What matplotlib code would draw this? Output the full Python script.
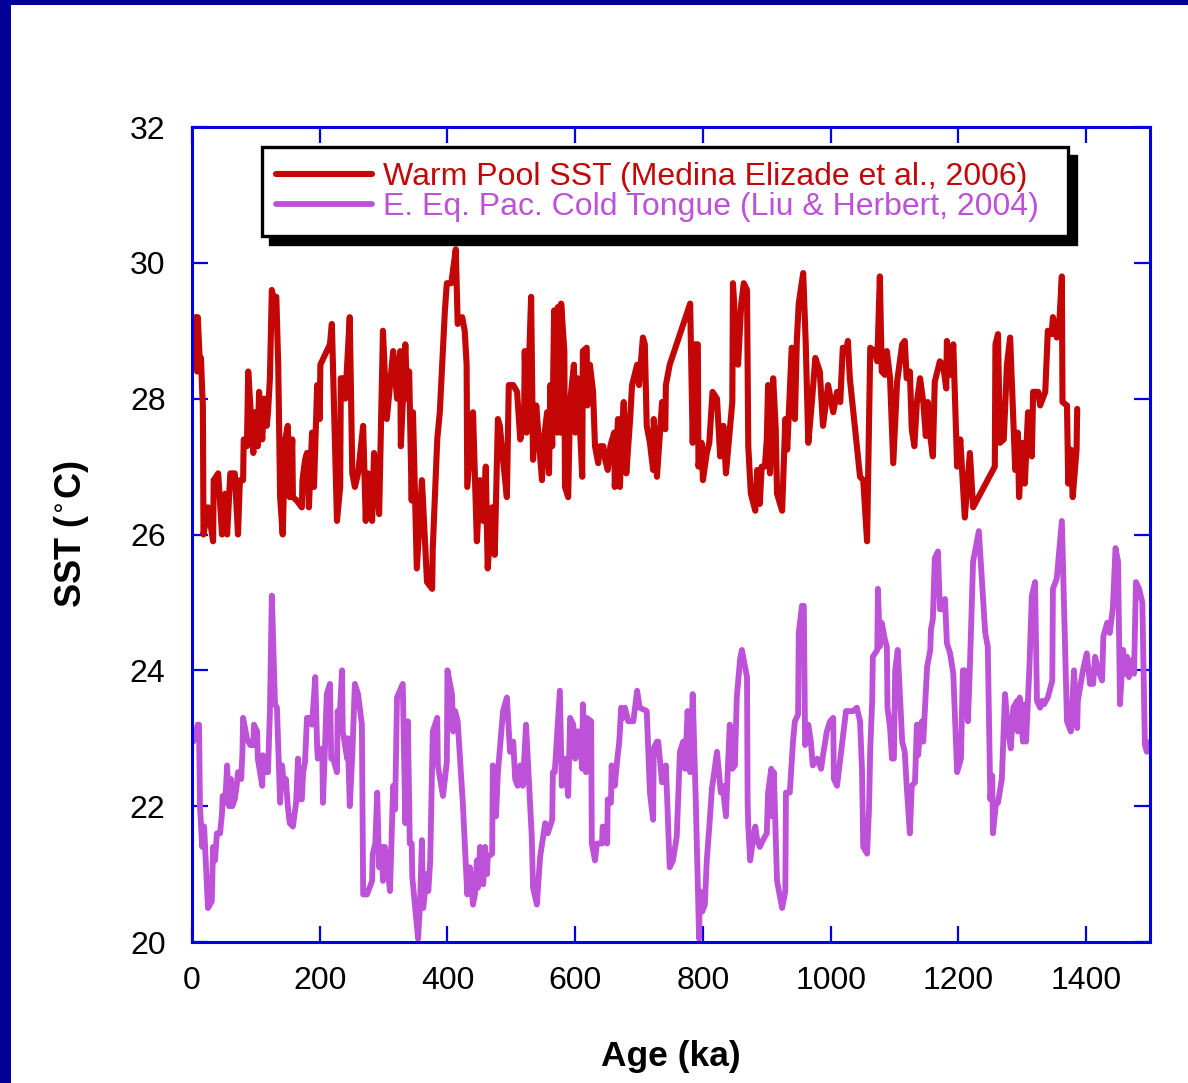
import matplotlib
matplotlib.use("Agg")
import matplotlib.pyplot as plt
from matplotlib.patches import Rectangle

plt.rcParams["font.family"] = ["Liberation Sans", "DejaVu Sans"]

# Warm Pool SST (Medina Elizade et al., 2006)
warm_age = [0, 5, 8, 9, 12, 14, 16, 17, 18, 25, 33, 34, 41, 47, 52, 55, 60, 67, 72, 75,
            80, 81, 86, 88, 96, 99, 103, 105, 110, 113, 117, 119, 122, 125, 127, 132, 135, 138, 142, 146,
            150, 153, 157, 158, 164, 172, 173, 177, 180, 183, 188, 191, 196, 200, 201, 216, 219, 227, 232, 233,
            236, 240, 247, 251, 255, 260, 268, 272, 276, 282, 285, 293, 299, 305, 315, 321, 326, 327, 334, 337,
            340, 344, 346, 352, 360, 368, 376, 377, 384, 388, 396, 399, 406, 413, 416, 423, 427, 430, 431, 440,
            446, 451, 456, 460, 463, 470, 474, 479, 482, 487, 493, 496, 503, 509, 514, 520, 521, 524, 531, 534,
            539, 543, 548, 551, 556, 559, 561, 564, 567, 572, 573, 577, 578, 583, 584, 589, 592, 598, 600, 604,
            611, 612, 618, 619, 623, 628, 631, 636, 639, 644, 647, 651, 655, 661, 662, 667, 670, 673, 676, 680,
            686, 689, 697, 700, 706, 709, 712, 717, 722, 723, 728, 736, 741, 742, 748, 780, 784, 787, 792, 793,
            798, 800, 806, 810, 815, 822, 827, 832, 836, 846, 847, 852, 855, 860, 864, 869, 871, 875, 882, 885,
            889, 892, 897, 900, 902, 905, 910, 914, 916, 924, 929, 932, 939, 944, 947, 950, 957, 961, 965, 971,
            976, 983, 988, 996, 1004, 1010, 1015, 1019, 1024, 1027, 1030, 1046, 1051, 1057, 1060, 1062, 1069, 1073, 1077, 1080,
            1085, 1088, 1093, 1098, 1104, 1112, 1116, 1119, 1124, 1127, 1131, 1135, 1140, 1145, 1149, 1152, 1156, 1160, 1163, 1171,
            1176, 1181, 1182, 1187, 1192, 1198, 1203, 1210, 1218, 1223, 1257, 1258, 1262, 1265, 1271, 1276, 1281, 1289, 1293, 1295,
            1300, 1304, 1309, 1315, 1317, 1325, 1328, 1336, 1340, 1346, 1348, 1354, 1357, 1362, 1363, 1370, 1372, 1376, 1379, 1385,
            1386]
warm_sst = [28.6, 29.2, 28.4, 29.2, 28.6, 28.6, 28.1, 27.9, 26.0, 26.4, 25.9, 26.8, 26.9, 26.0, 26.6, 26.0, 26.9, 26.9, 26.0, 26.8,
            26.8, 27.4, 27.3, 28.4, 27.2, 27.8, 27.3, 28.1, 27.4, 28.0, 27.6, 27.8, 28.3, 29.6, 29.5, 29.5, 28.5, 26.55, 26.0, 27.4,
            27.6, 26.55, 27.4, 26.55, 26.5, 26.4, 26.8, 27.1, 27.2, 26.4, 27.5, 26.7, 28.2, 27.7, 28.5, 28.8, 29.1, 26.2, 26.7, 28.3,
            28.3, 28.0, 29.2, 26.9, 26.7, 26.9, 27.6, 26.2, 26.9, 26.2, 27.2, 26.3, 29.0, 27.7, 28.7, 28.0, 28.7, 27.3, 28.8, 28.0,
            28.4, 26.5, 27.8, 25.5, 26.8, 25.3, 25.2, 25.8, 27.4, 27.8, 29.3, 29.7, 29.7, 30.2, 29.1, 29.2, 29.0, 28.5, 26.7, 27.8,
            25.9, 26.8, 26.2, 27.0, 25.5, 26.4, 25.7, 27.7, 27.6, 27.1, 26.55, 28.2, 28.2, 28.1, 27.4, 27.7, 28.7, 27.5, 29.5, 27.1,
            27.9, 27.4, 26.8, 27.4, 27.8, 26.9, 28.2, 27.3, 29.3, 27.5, 29.35, 27.5, 29.4, 28.7, 26.7, 26.55, 27.95, 28.5, 27.5, 28.3,
            26.85, 28.7, 28.75, 27.9, 28.5, 28.1, 27.3, 27.05, 27.3, 27.3, 27.1, 26.95, 27.3, 27.5, 26.7, 27.7, 26.7, 27.5, 27.95, 26.9,
            27.7, 28.2, 28.5, 28.2, 28.9, 28.8, 27.6, 27.35, 26.95, 27.7, 26.85, 27.95, 27.55, 28.2, 28.5, 29.4, 27.35, 28.8, 28.8, 27.0,
            27.35, 26.8, 27.2, 27.35, 28.1, 28.0, 27.15, 27.6, 26.9, 27.95, 29.7, 28.9, 28.5, 29.4, 29.7, 29.6, 27.3, 26.6, 26.35, 26.95,
            26.45, 27.0, 27.0, 27.4, 28.2, 26.9, 28.3, 27.55, 26.6, 26.35, 27.7, 27.25, 28.75, 27.7, 28.85, 29.4, 29.85, 28.8, 27.35, 28.0,
            28.6, 28.4, 27.6, 28.2, 27.8, 28.1, 27.95, 28.75, 28.7, 28.85, 28.3, 26.85, 26.8, 25.9, 27.6, 28.75, 28.7, 28.55, 29.8, 28.4,
            28.35, 28.7, 28.3, 27.05, 28.25, 28.8, 28.85, 28.3, 28.4, 27.55, 27.3, 27.95, 28.3, 27.95, 27.45, 27.95, 27.45, 27.15, 28.25, 28.55,
            28.5, 28.15, 28.85, 28.35, 28.8, 27.0, 27.4, 26.25, 27.2, 26.4, 27.0, 28.8, 28.95, 27.35, 27.4, 28.5, 28.9, 26.95, 27.5, 26.55,
            27.35, 26.75, 27.8, 27.15, 28.1, 28.1, 27.9, 28.1, 29.0, 28.95, 29.2, 28.9, 28.95, 29.8, 27.95, 27.9, 26.75, 27.25, 26.55, 27.25,
            27.85]

# E. Eq. Pac. Cold Tongue (Liu & Herbert, 2004)
cold_age = [2, 9, 11, 12.5, 16, 17, 19, 25, 31, 33, 36, 39, 44, 47, 48, 52, 55, 58, 61, 63,
            67, 70, 72, 77, 79, 80, 86, 91, 96, 97, 102, 103, 110, 111, 116, 119, 122, 125, 130, 133,
            138, 141, 144, 147, 150, 153, 158, 163, 166, 169, 172, 174, 177, 180, 185, 188, 193, 196, 197, 204,
            205, 208, 211, 216, 218, 221, 227, 228, 230, 235, 236, 243, 244, 247, 251, 255, 260, 266, 268, 274,
            282, 283, 287, 290, 293, 297, 299, 302, 305, 310, 315, 318, 321, 330, 334, 338, 341, 344, 345, 354,
            357, 360, 362, 368, 370, 373, 377, 384, 385, 393, 399, 400, 407, 409, 412, 416, 424, 431, 435, 440,
            443, 446, 448, 451, 456, 459, 462, 463, 470, 471, 476, 479, 487, 493, 498, 503, 506, 510, 514, 518,
            523, 532, 534, 540, 545, 553, 557, 564, 565, 568, 576, 579, 584, 589, 592, 597, 600, 603, 606, 611,
            612, 617, 618, 625, 626, 631, 634, 642, 643, 650, 651, 656, 657, 662, 666, 669, 672, 675, 678, 683,
            691, 697, 701, 712, 717, 722, 723, 728, 730, 736, 742, 748, 753, 759, 764, 769, 772, 776, 780, 784,
            789, 791, 794, 795, 799, 803, 806, 810, 814, 822, 828, 831, 836, 839, 842, 846, 850, 853, 858, 861,
            869, 870, 871, 874, 879, 882, 885, 889, 894, 900, 902, 907, 908, 911, 916, 924, 929, 930, 936, 941,
            944, 949, 950, 955, 958, 960, 965, 969, 972, 979, 985, 988, 994, 999, 1004, 1005, 1010, 1024, 1035, 1041,
            1046, 1049, 1051, 1057, 1060, 1062, 1065, 1066, 1073, 1074, 1077, 1080, 1085, 1088, 1089, 1093, 1096, 1099, 1101, 1105,
            1112, 1116, 1119, 1124, 1127, 1132, 1135, 1137, 1140, 1143, 1145, 1151, 1156, 1157, 1160, 1163, 1168, 1171, 1176, 1179,
            1182, 1187, 1192, 1198, 1204, 1207, 1210, 1215, 1218, 1223, 1229, 1232, 1239, 1242, 1246, 1250, 1253, 1254, 1259, 1262,
            1268, 1273, 1278, 1282, 1286, 1292, 1293, 1296, 1301, 1303, 1306, 1311, 1315, 1320, 1323, 1328, 1331, 1334, 1340, 1347,
            1348, 1354, 1362, 1370, 1376, 1381, 1386, 1387, 1395, 1401, 1406, 1411, 1414, 1419, 1425, 1427, 1433, 1437, 1441, 1442,
            1446, 1450, 1453, 1458, 1461, 1464, 1467, 1472, 1475, 1478, 1483, 1488, 1492, 1495, 1500]
cold_sst = [22.95, 23.2, 23.2, 22.0, 21.4, 21.7, 21.7, 20.5, 20.6, 21.4, 21.2, 21.6, 21.6, 21.9, 22.15, 22.05, 22.6, 22.0, 22.4, 22.0,
            22.1, 22.3, 22.5, 22.4, 22.8, 23.3, 23.0, 22.9, 22.9, 23.2, 23.1, 22.7, 22.3, 22.75, 22.5, 22.5, 23.4, 25.1, 23.5, 23.45,
            22.05, 22.6, 22.3, 22.4, 22.0, 21.75, 21.7, 22.05, 22.7, 22.1, 22.1, 22.5, 22.65, 23.3, 23.3, 23.2, 23.9, 22.85, 22.7, 22.85,
            22.05, 22.8, 23.65, 23.8, 22.7, 22.7, 22.5, 23.4, 23.1, 24.0, 23.1, 22.7, 23.0, 22.0, 22.75, 23.8, 23.65, 23.2, 20.7, 20.7,
            20.9, 21.3, 21.45, 22.2, 21.1, 21.4, 20.9, 21.4, 21.2, 20.75, 22.3, 21.95, 23.6, 23.8, 21.75, 23.25, 21.45, 21.45, 20.95, 20.05,
            20.55, 21.5, 20.5, 21.0, 20.75, 21.2, 23.1, 23.3, 22.6, 22.15, 22.65, 24.0, 23.65, 23.1, 23.4, 23.25, 22.05, 20.7, 21.1, 20.55,
            20.7, 21.2, 20.8, 21.4, 20.85, 21.4, 21.0, 21.25, 21.3, 22.6, 21.85, 22.5, 23.4, 23.6, 22.8, 22.95, 22.4, 22.3, 22.6, 22.3,
            23.2, 21.55, 20.8, 20.55, 21.25, 21.75, 21.6, 21.8, 22.5, 22.5, 23.7, 22.3, 22.7, 22.15, 23.3, 23.2, 22.7, 23.1, 23.1, 22.55,
            23.5, 22.5, 23.3, 23.25, 21.45, 21.2, 21.45, 21.45, 21.7, 21.45, 22.1, 22.05, 22.6, 22.3, 22.7, 22.95, 23.45, 23.3, 23.45, 23.25,
            23.25, 23.7, 23.45, 23.4, 22.2, 21.8, 22.85, 22.95, 22.95, 22.35, 22.6, 21.1, 21.2, 21.55, 22.8, 22.95, 22.55, 23.4, 22.5, 23.65,
            22.0, 21.2, 20.05, 20.75, 20.45, 20.55, 21.2, 21.7, 22.25, 22.8, 22.2, 22.3, 21.85, 22.55, 23.2, 22.55, 22.6, 23.6, 24.15, 24.3,
            23.9, 22.05, 21.7, 21.2, 21.55, 21.7, 21.5, 21.4, 21.5, 21.6, 22.2, 22.55, 21.85, 22.5, 20.9, 20.5, 20.75, 22.2, 22.2, 22.95,
            23.25, 23.35, 24.55, 24.95, 24.95, 22.9, 23.2, 22.95, 22.6, 22.7, 22.55, 22.75, 23.1, 23.25, 23.3, 22.4, 22.3, 23.4, 23.4, 23.45,
            23.25, 22.55, 21.4, 21.3, 21.95, 22.85, 23.55, 24.2, 24.3, 25.2, 24.35, 24.7, 24.45, 24.35, 23.45, 23.15, 22.7, 22.7, 24.0, 24.3,
            22.95, 22.8, 22.3, 21.6, 22.3, 22.35, 23.2, 22.75, 23.15, 23.25, 22.95, 24.05, 24.3, 24.6, 24.75, 25.65, 25.75, 24.9, 24.9, 25.05,
            24.4, 24.25, 23.95, 22.5, 22.7, 24.0, 24.0, 23.25, 24.05, 25.6, 25.9, 26.05, 25.0, 24.55, 24.35, 22.1, 22.45, 21.6, 22.05, 22.05,
            22.4, 23.65, 23.1, 22.85, 23.45, 23.55, 23.1, 23.6, 22.95, 23.5, 22.95, 24.0, 25.1, 25.3, 23.55, 23.45, 23.55, 23.5, 23.6, 23.85,
            25.2, 25.35, 26.2, 23.25, 23.1, 24.0, 23.15, 23.55, 24.0, 24.25, 23.8, 23.8, 24.2, 24.0, 23.85, 24.5, 24.7, 24.55, 24.85, 24.95,
            25.8, 25.6, 23.5, 24.3, 23.95, 24.2, 23.9, 24.15, 23.95, 25.3, 25.2, 25.0, 22.9, 22.8, 22.95]

x_ticks = [0, 200, 400, 600, 800, 1000, 1200, 1400]
y_ticks = [20, 22, 24, 26, 28, 30, 32]

warm_color = "#C40606"
cold_color = "#BD52D9"
spine_color = "#0000E6"

fig = plt.figure(figsize=(11.88, 10.83), dpi=100)

# navy frame on the left and top edges
fig.patches.append(Rectangle((0, 0), 11 / 1188, 1, transform=fig.transFigure,
                             facecolor="#000099", edgecolor="none", zorder=0))
fig.patches.append(Rectangle((0, 1 - 5 / 1083), 1, 5 / 1083, transform=fig.transFigure,
                             facecolor="#000099", edgecolor="none", zorder=0))

ax = fig.add_axes([192 / 1188, 1 - 942 / 1083, 958 / 1188, 815 / 1083])

ax.plot(warm_age, warm_sst, color=warm_color, lw=4.4, solid_joinstyle="round",
        solid_capstyle="round", label="Warm Pool SST (Medina Elizade et al., 2006)")
ax.plot(cold_age, cold_sst, color=cold_color, lw=4.2, solid_joinstyle="round",
        solid_capstyle="round", label="E. Eq. Pac. Cold Tongue (Liu & Herbert, 2004)")

ax.set_xlim(0, 1500)
ax.set_ylim(20, 32)
ax.set_xticks(x_ticks)
ax.set_yticks(y_ticks)

for sp in ax.spines.values():
    sp.set_color(spine_color)
    sp.set_linewidth(2.2)

ax.tick_params(axis="both", which="major", direction="in", length=11.5, width=1.6,
               color=spine_color, labelsize=23, top=True, right=True)
ax.tick_params(axis="x", pad=17)
ax.tick_params(axis="y", pad=19)

ax.set_xlabel("Age (ka)", fontsize=25.5, fontweight="bold", labelpad=32)
ax.set_ylabel("SST ($^{\\circ}$C)", fontsize=26, fontweight="bold", labelpad=28)

leg = ax.legend(loc="upper left", bbox_to_anchor=(0.073, 0.865, 0.841, 0.11),
                mode="expand", borderaxespad=0,
                fontsize=23, handlelength=3.0, handletextpad=0.33, labelspacing=0.0,
                borderpad=0.45, fancybox=False, framealpha=1,
                shadow={"color": "black", "alpha": 1, "ox": 6, "oy": -6})
leg.get_frame().set_edgecolor("black")
leg.get_frame().set_linewidth(2.4)
for txt, c in zip(leg.get_texts(), [warm_color, cold_color]):
    txt.set_color(c)

fig.savefig("out.png", dpi=100)
